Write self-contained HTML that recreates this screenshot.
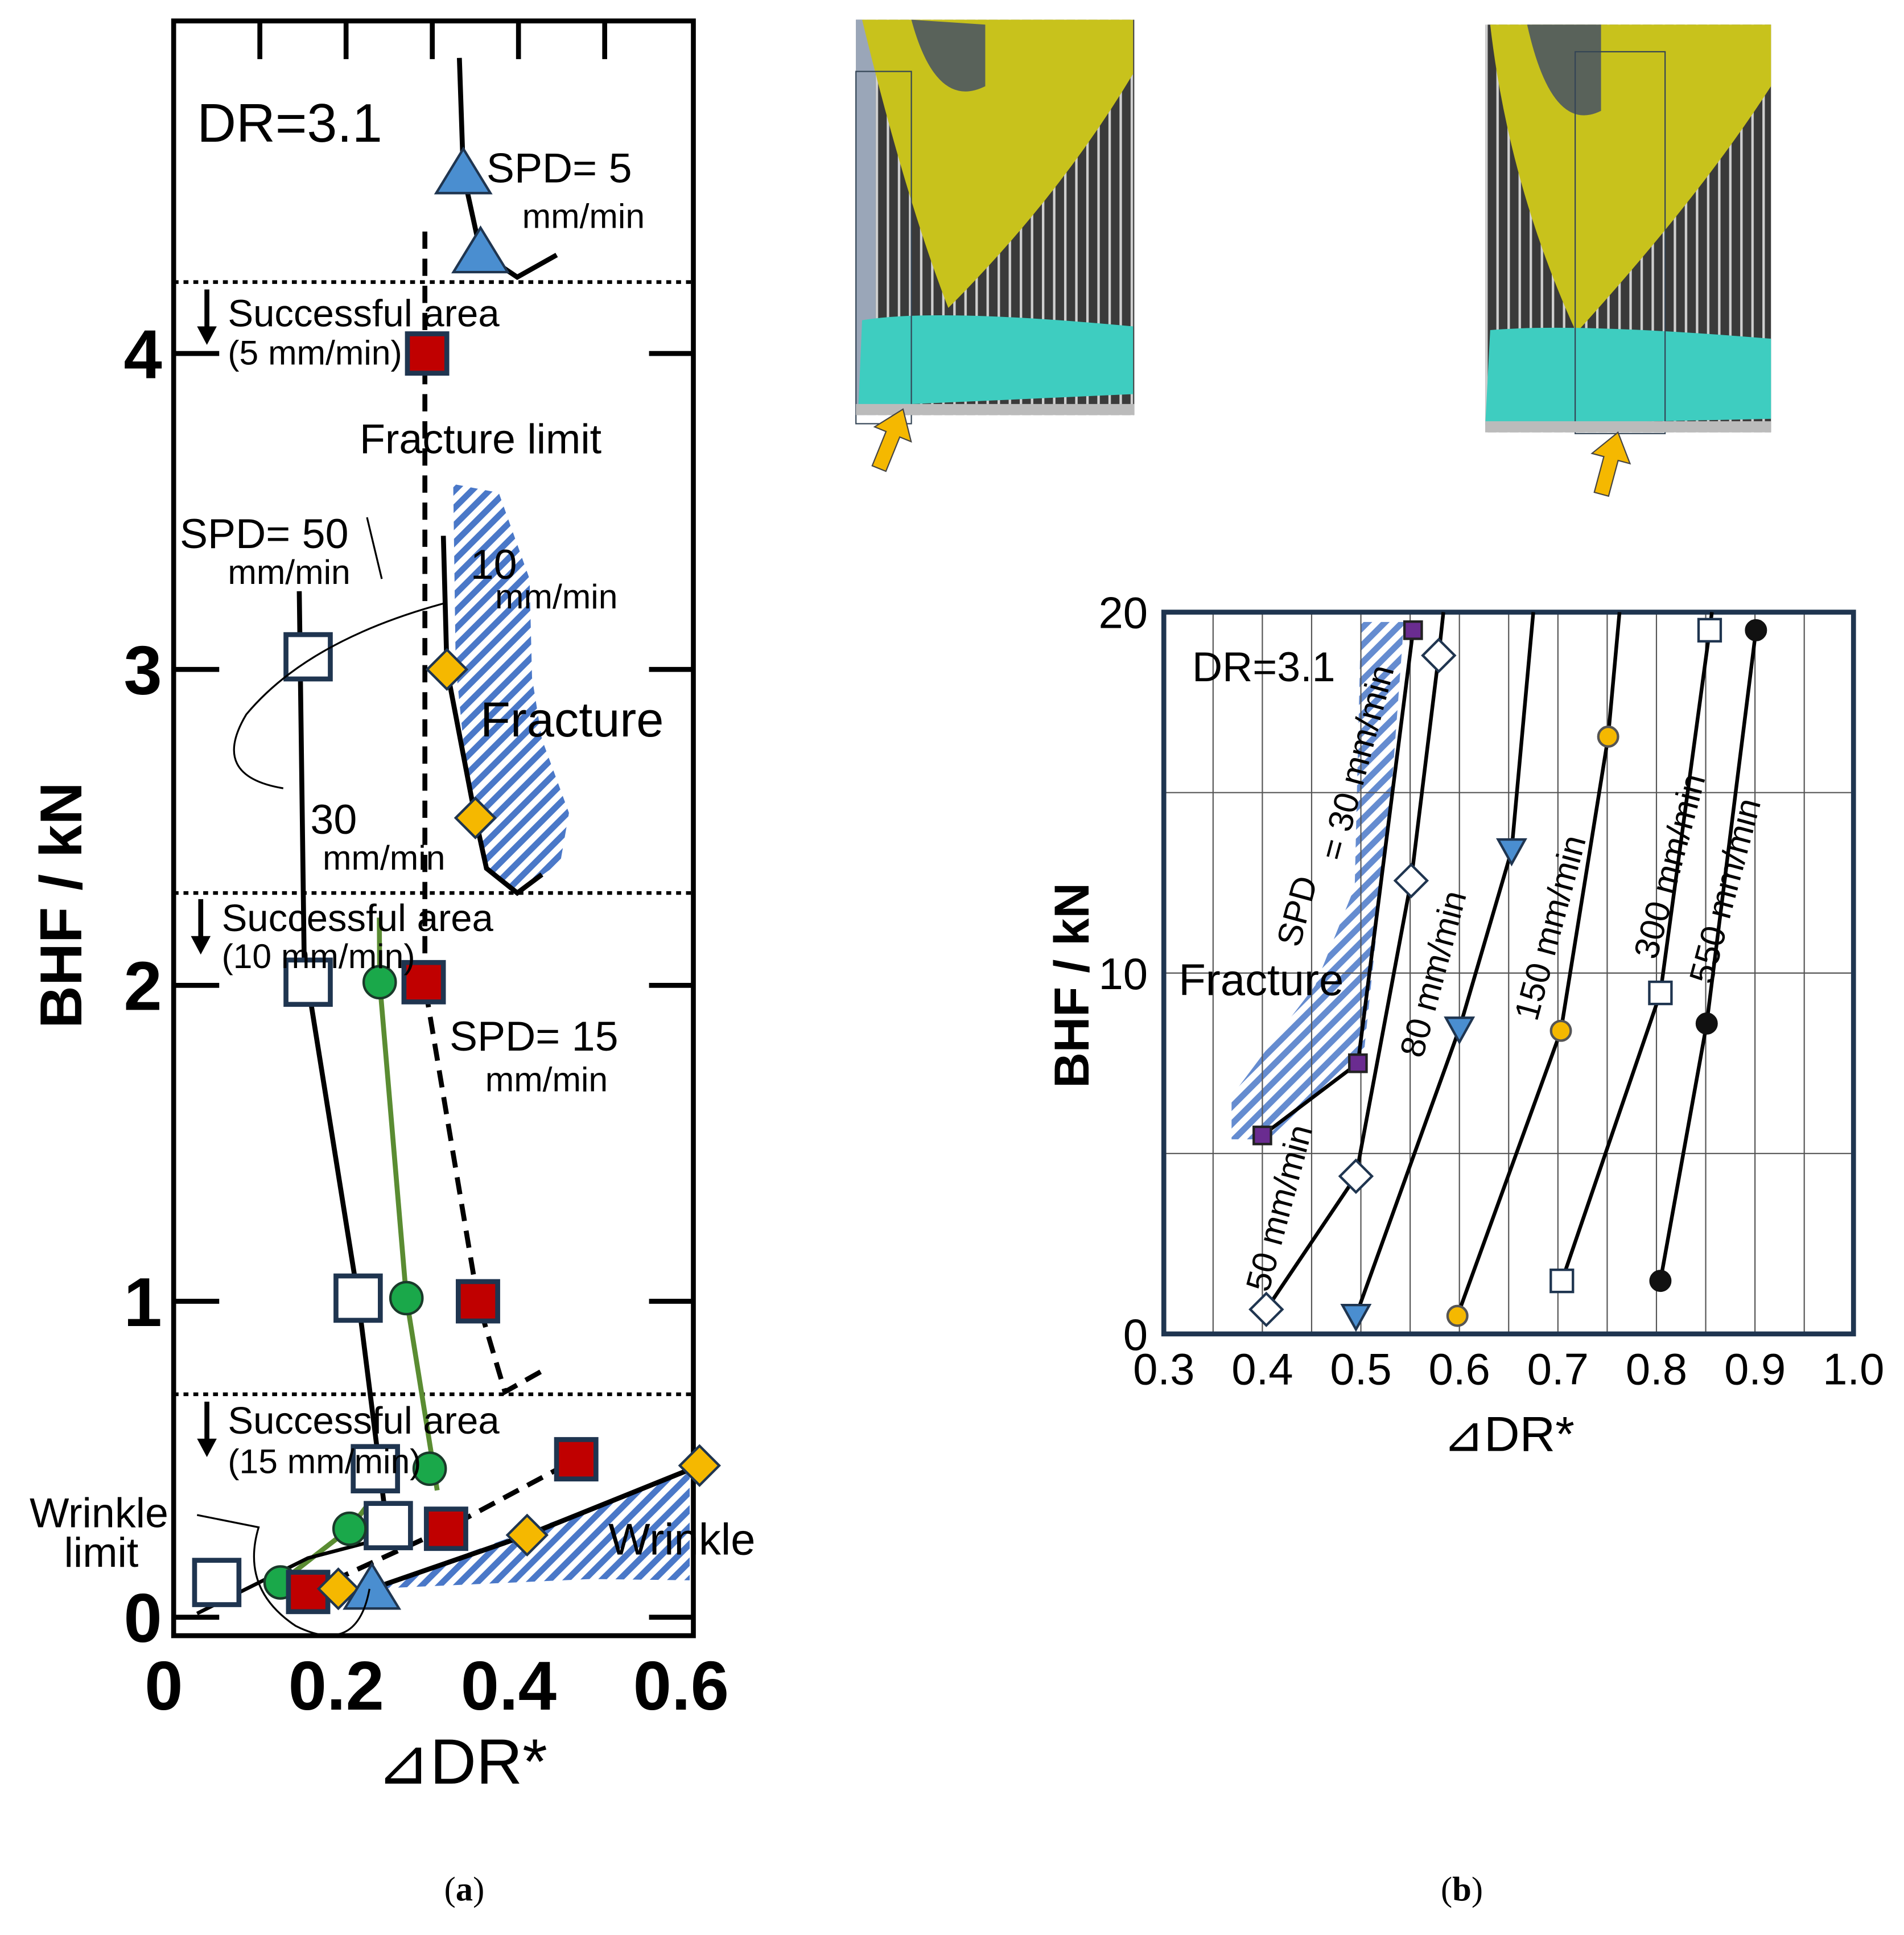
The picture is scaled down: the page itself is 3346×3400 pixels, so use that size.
<!DOCTYPE html>
<html><head><meta charset="utf-8"><style>html,body{margin:0;padding:0;background:#fff}svg{display:block}text{font-family:"Liberation Sans","DejaVu Sans",sans-serif}</style></head>
<body>
<svg id="fig" xmlns="http://www.w3.org/2000/svg" width="3346" height="3400" viewBox="0 0 1546 1571" preserveAspectRatio="none">
<defs>
<pattern id="hatch" patternUnits="userSpaceOnUse" width="10" height="10" patternTransform="rotate(45)"><rect width="10" height="10" fill="#fff"/><rect width="5" height="10" fill="#4a78c8"/></pattern>
<pattern id="vgrid" patternUnits="userSpaceOnUse" width="9" height="400"><rect width="9" height="400" fill="#3a3a3a"/><rect width="2" height="400" fill="#cfcfcf"/></pattern>
</defs>
<g>
<rect x="695" y="16" width="226" height="321" fill="url(#vgrid)"/>
<rect x="695" y="16" width="16" height="321" fill="#9aa6b8"/>
<path d="M700 16 L920 16 L920 60 Q860 160 770 250 Q735 160 700 16 Z" fill="#c8c21c"/>
<path d="M740 16 Q760 90 800 70 L800 20Z" fill="#3d4a6a" opacity=".8"/>
<path d="M700 260 Q760 250 920 265 L920 320 L697 330 Z" fill="#3ecdc0"/>
<rect x="695" y="58" width="45" height="286" fill="none" stroke="#345" stroke-width="1"/>
<rect x="695" y="328" width="226" height="9" fill="#bbb"/>
<polygon points="0,-30 16,-8 6,-8 6,22 -6,22 -6,-8 -16,-8" transform="translate(722,360) rotate(22)" fill="#f5b800" stroke="#444" stroke-width="1"/>
</g>
<g>
<rect x="1206" y="20" width="232" height="331" fill="url(#vgrid)"/>
<path d="M1210 20 L1438 20 L1438 70 Q1380 160 1280 270 Q1225 150 1210 20Z" fill="#c8c21c"/>
<path d="M1240 20 Q1260 110 1300 90 L1300 20Z" fill="#3d4a6a" opacity=".8"/>
<path d="M1210 268 Q1280 262 1438 275 L1438 340 L1206 345 Z" fill="#3ecdc0"/>
<rect x="1279" y="42" width="73" height="310" fill="none" stroke="#345" stroke-width="1"/>
<rect x="1206" y="342" width="232" height="9" fill="#bbb"/>
<polygon points="0,-30 16,-8 6,-8 6,22 -6,22 -6,-8 -16,-8" transform="translate(1306,380) rotate(15)" fill="#f5b800" stroke="#444" stroke-width="1"/>
</g>
<g id="chartA"></g>
<g id="chartB"></g>
<text x="377" y="1543" font-size="28" text-anchor="middle" style="font-family:'Liberation Serif',serif">(<tspan font-weight="bold">a</tspan>)</text>
<text x="1187" y="1543" font-size="28" text-anchor="middle" style="font-family:'Liberation Serif',serif">(<tspan font-weight="bold">b</tspan>)</text>
</svg>
<script>
// ---- chart (a) data ----
const aXTicks=[0,0.2,0.4,0.6];
const aYTicks=[0,1,2,3,4];
const spd50X=[0.156,0.156,0.214,0.234,0.249,0.05];
const spd50Y=[3.04,2.01,1.01,0.47,0.29,0.11];
const spd30X=[0.239,0.270,0.297,0.204,0.124];
const spd30Y=[2.01,1.01,0.47,0.28,0.11];
const spd15X=[0.294,0.290,0.353,0.467,0.316,0.156];
const spd15Y=[4.0,2.01,1.0,0.50,0.28,0.08];
const spd10X=[0.317,0.350,0.610,0.410,0.191];
const spd10Y=[3.0,2.53,0.48,0.26,0.09];
const spd5X=[0.336,0.356,0.230];
const spd5Y=[4.57,4.32,0.09];
// ---- chart (b) data ----
const bXTicks=[0.3,0.4,0.5,0.6,0.7,0.8,0.9,1.0];
const bYTicks=[0,10,20];
const b30X=[0.4,0.497,0.553], b30Y=[5.5,7.5,19.5];
const b50X=[0.404,0.495,0.551,0.579], b50Y=[0.68,4.37,12.56,18.8];
const b80X=[0.495,0.6,0.653], b80Y=[0.5,8.46,13.4];
const b150X=[0.598,0.703,0.751], b150Y=[0.5,8.4,16.55];
const b300X=[0.704,0.804,0.854], b300Y=[1.47,9.45,19.5];
const b550X=[0.804,0.851,0.901], b550Y=[1.47,8.6,19.5];

const NS="http://www.w3.org/2000/svg";
function mk(p,tag,at,txt){const e=document.createElementNS(NS,tag);for(const k in at)e.setAttribute(k,at[k]);if(txt!==undefined)e.textContent=txt;p.appendChild(e);return e;}
const ax=v=>141+v*700, ay=v=>1313-v*256.5;
const bx=v=>945+(v-0.3)*800, by=v=>1083-v*29.3;

function marker(p,kind,x,y,s,fill,stroke,name){
 let e;
 if(kind==='sq') e=mk(p,'rect',{x:x-s,y:y-s,width:2*s,height:2*s,fill:fill,stroke:stroke,'stroke-width':s>10?4:2});
 else if(kind==='ci') e=mk(p,'circle',{cx:x,cy:y,r:s,fill:fill,stroke:stroke,'stroke-width':2});
 else if(kind==='di') e=mk(p,'polygon',{points:`${x},${y-s} ${x+s},${y} ${x},${y+s} ${x-s},${y}`,fill:fill,stroke:stroke,'stroke-width':2});
 else if(kind==='tu') e=mk(p,'polygon',{points:`${x},${y-s} ${x+s*1.1},${y+s*0.8} ${x-s*1.1},${y+s*0.8}`,fill:fill,stroke:stroke,'stroke-width':2});
 else e=mk(p,'polygon',{points:`${x},${y+s} ${x+s},${y-s*0.8} ${x-s},${y-s*0.8}`,fill:fill,stroke:stroke,'stroke-width':2});
 
 
}
function txt(p,x,y,s,t,name,extra){const e=mk(p,'text',Object.assign({x:x,y:y,'font-size':s},extra||{}),t);
 
 return e;}
function pl(p,pts,st,name){const l=mk(p,'polyline',Object.assign({points:pts.map(q=>q.join(',')).join(' '),fill:'none'},st));
 
 }

// ===== chart A =====
const A=document.getElementById('chartA');
let e=mk(A,'polygon',{points:"368,393 405,400 430,470 432,550 440,600 462,660 455,700 420,725 395,705 380,640 370,540",fill:"url(#hatch)"});


e=mk(A,'polygon',{points:"300,1290 560,1195 560,1283 480,1282",fill:"url(#hatch)"});


e=mk(A,'rect',{x:141,y:17,width:422,height:1311,fill:'none',stroke:'#000','stroke-width':4});


[0.1,0.2,0.3,0.4,0.5].forEach(v=>{const t=mk(A,'line',{x1:ax(v),x2:ax(v),y1:17,y2:48,stroke:'#000','stroke-width':4});
 
 });
aXTicks.forEach(v=>{txt(A,ax(v)-8,1388,56,v===0?'0':v.toFixed(1),'x-tick-label',{'text-anchor':'middle','font-weight':'bold'});});
aYTicks.forEach(v=>{
 [[141,178],[527,563]].forEach(r=>{const t=mk(A,'line',{x1:r[0],x2:r[1],y1:ay(v),y2:ay(v),stroke:'#000','stroke-width':4});
 
 });
 txt(A,116,ay(v)+20,56,String(v),'y-tick-label',{'text-anchor':'middle','font-weight':'bold'});
});
[229,725,1132].forEach(y=>{const l=mk(A,'line',{x1:141,x2:563,y1:y,y2:y,stroke:'#000','stroke-width':3,'stroke-dasharray':'4,4'});
 
 });
txt(A,66,735,48,'BHF  / kN','y-axis-title',{'text-anchor':'middle','font-weight':'bold',transform:'rotate(-90 66 735)'});
txt(A,375,1448,52,'⊿DR*','x-axis-title',{'text-anchor':'middle'});
pl(A,[[243,480],[247,780],[ax(spd50X[2]),ay(spd50Y[2])],[ax(spd50X[4]),ay(spd50Y[4])+10]],{stroke:'#000','stroke-width':4},'spd50-line');
pl(A,[[308,745],[ax(spd30X[0]),ay(spd30Y[0])],[ax(spd30X[1]),ay(spd30Y[1])],[355,1210]],{stroke:'#5a8c32','stroke-width':4},'spd30-line');
pl(A,[[ax(spd30X[4]),ay(spd30Y[4])],[ax(spd30X[3]),ay(spd30Y[3])],[300,1220]],{stroke:'#5a8c32','stroke-width':4},'spd30-line-low');
pl(A,[[345,188],[345,800],[ax(spd15X[2]),ay(spd15Y[2])],[410,1130],[442,1112]],{stroke:'#000','stroke-width':4,'stroke-dasharray':'14,8'},'spd15-line');
pl(A,[[ax(spd15X[5]),ay(spd15Y[5])],[ax(spd15X[4]),ay(spd15Y[4])],[ax(spd15X[3]),ay(spd15Y[3])]],{stroke:'#000','stroke-width':4,'stroke-dasharray':'14,8'},'spd15-line-low');
pl(A,[[360,435],[ax(spd10X[0]),ay(spd10Y[0])],[ax(spd10X[1]),ay(spd10Y[1])],[395,705],[420,725],[440,710]],{stroke:'#000','stroke-width':4},'spd10-line');
pl(A,[[ax(spd5X[2]),ay(spd5Y[2])],[ax(spd10X[3]),ay(spd10Y[3])],[ax(spd10X[2]),ay(spd10Y[2])]],{stroke:'#000','stroke-width':4},'wrinkle-limit-line');
pl(A,[[373,47],[ax(spd5X[0]),ay(spd5Y[0])],[ax(spd5X[1]),ay(spd5Y[1])],[420,225],[452,207]],{stroke:'#000','stroke-width':4},'spd5-line');
pl(A,[[160,1310],[250,1265],[315,1248]],{stroke:'#000','stroke-width':3},'bottom-line');
spd50X.forEach((v,i)=>marker(A,'sq',ax(v),ay(spd50Y[i]),18,'#fff','#1f3550','spd50-marker'));
spd30X.forEach((v,i)=>marker(A,'ci',ax(v),ay(spd30Y[i]),13,'#1aa84a','#1a3a2a','spd30-marker'));
spd15X.forEach((v,i)=>marker(A,'sq',ax(v),ay(spd15Y[i]),16,'#c00000','#1f3550','spd15-marker'));
spd10X.forEach((v,i)=>marker(A,'di',ax(v),ay(spd10Y[i]),16,'#f5b800','#1f3550','spd10-marker'));
spd5X.forEach((v,i)=>marker(A,'tu',ax(v),ay(spd5Y[i]),20,'#4a8ed0','#1f3550','spd5-marker'));
const T=[[160,115,44,'DR=3.1'],[395,148,34,'SPD= 5'],[424,185,28,'mm/min'],[185,265,31,'Successful area'],[185,296,28,'(5 mm/min)'],
[292,368,34,'Fracture limit'],[146,445,34,'SPD= 50'],[185,474,28,'mm/min'],[382,470,34,'10'],[402,494,28,'mm/min'],[390,598,40,'Fracture'],
[252,677,34,'30'],[262,706,28,'mm/min'],[180,756,31,'Successful area'],[180,786,28,'(10 mm/min)'],[365,853,34,'SPD= 15'],[394,886,28,'mm/min'],
[185,1164,31,'Successful area'],[185,1196,28,'(15 mm/min)'],[24,1240,34,'Wrinkle'],[52,1272,34,'limit'],[494,1262,36,'Wrinkle']];
T.forEach(t=>txt(A,t[0],t[1],t[2],t[3],'annotation-'+t[3].toLowerCase().replace(/[^a-z0-9]+/g,'-')));
[[168,235],[163,730],[168,1138]].forEach(p=>{pl(A,[[p[0],p[1]],[p[0],p[1]+38]],{stroke:'#000','stroke-width':4},'arrow-down');
 const h=mk(A,'polygon',{points:`${p[0]-8},${p[1]+30} ${p[0]+8},${p[1]+30} ${p[0]},${p[1]+45}`,fill:'#000'});
 
 });
e=mk(A,'path',{d:'M298,420 L310,470 M360,490 Q250,520 200,580 Q170,630 230,640',fill:'none',stroke:'#000','stroke-width':1.5});


e=mk(A,'path',{d:'M160,1230 L210,1240 Q195,1290 240,1320 Q290,1345 300,1290',fill:'none',stroke:'#000','stroke-width':1.5});



// ===== chart B =====
const B=document.getElementById('chartB');
e=mk(B,'polygon',{points:"1000,890 1045,830 1068,800 1100,720 1105,505 1140,505 1130,640 1108,850 1030,925 1000,925",fill:"url(#hatch)",opacity:.85});


for(let v=0.35;v<1.0;v+=0.05){const g=mk(B,'line',{x1:bx(v),x2:bx(v),y1:497,y2:1083,stroke:'#555','stroke-width':1});
 
 }
[5,10,15].forEach(v=>{const g=mk(B,'line',{x1:945,x2:1505,y1:by(v),y2:by(v),stroke:'#555','stroke-width':1});
 
 });
e=mk(B,'rect',{x:945,y:497,width:560,height:586,fill:'none',stroke:'#1f3550','stroke-width':4});


bXTicks.forEach(v=>txt(B,bx(v),1124,36,v.toFixed(1),'x-tick-label-b',{'text-anchor':'middle'}));
bYTicks.forEach(v=>txt(B,932,by(v)+13,36,String(v),'y-tick-label-b',{'text-anchor':'end'}));
txt(B,884,800,40,'BHF  / kN','y-axis-title-b',{'text-anchor':'middle','font-weight':'bold',transform:'rotate(-90 884 800)'});
txt(B,1225,1178,40,'⊿DR*','x-axis-title-b',{'text-anchor':'middle'});
const BS=[[b30X,b30Y,'sq',7,'#6a2c90','#222','spd30',null],[b50X,b50Y,'di',13,'#fff','#1f3550','spd50',[1172,497]],[b80X,b80Y,'td',11,'#4a8ed0','#1f3550','spd80',[1245,497]],
[b150X,b150Y,'ci',8,'#f5b800','#555','spd150',[1315,497]],[b300X,b300Y,'sq',9,'#fff','#1f3550','spd300',[1390,497]],[b550X,b550Y,'ci',8,'#111','#111','spd550',null]];
BS.forEach(s=>{const pts=s[0].map((v,i)=>[bx(v),by(s[1][i])]);if(s[7])pts.push(s[7]);
 pl(B,pts,{stroke:'#000','stroke-width':3},s[6]+'-line-b');
 s[0].forEach((v,i)=>marker(B,s[2],bx(v),by(s[1][i]),s[3],s[4],s[5],s[6]+'-marker-b'));});
txt(B,968,553,34,'DR=3.1','annotation-dr');
txt(B,957,808,36,'Fracture','annotation-fracture-b');
[[1055,770,'SPD'],[1090,700,'= 30 mm/min'],[1030,1050,'50 mm/min'],[1155,860,'80 mm/min'],[1248,830,'150 mm/min'],[1345,780,'300 mm/min'],[1390,800,'550 mm/min']].forEach(t=>
 txt(B,t[0],t[1],28,t[2],'series-label-'+t[2].replace(/[^a-z0-9]+/gi,'-').toLowerCase(),{transform:`rotate(-75 ${t[0]} ${t[1]})`}));
</script>
</body></html>
